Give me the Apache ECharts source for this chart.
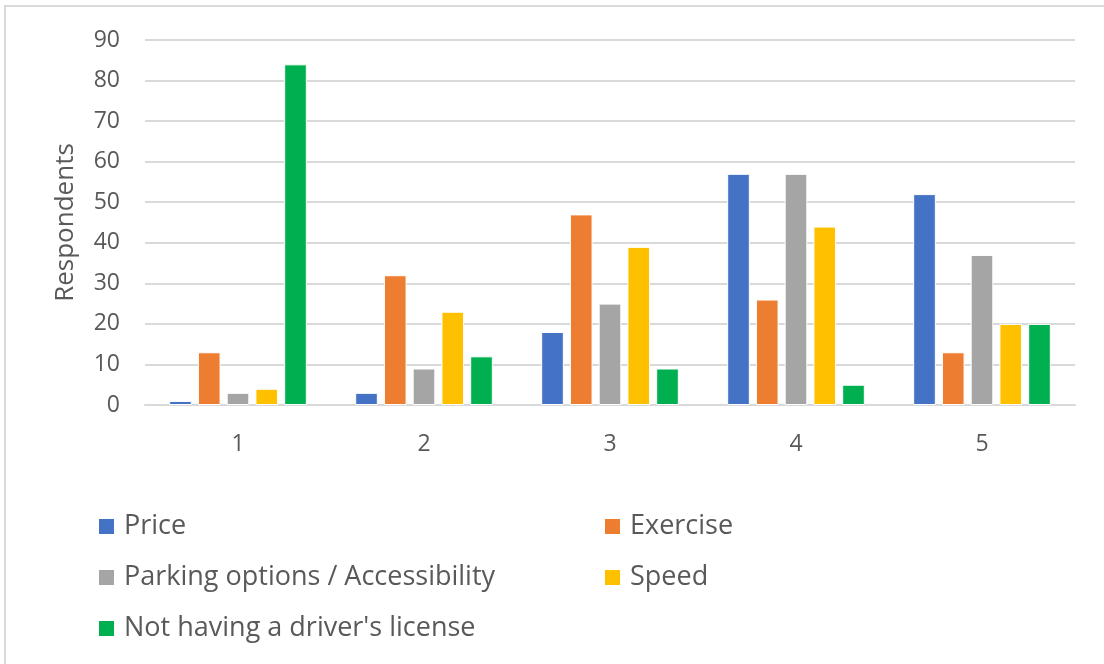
<!DOCTYPE html>
<html>
<head>
<meta charset="utf-8">
<script src="https://cdn.jsdelivr.net/npm/echarts@6/dist/echarts.min.js"></script>
<style>
html, body { margin: 0; padding: 0; background: #fff; }
#frame { position: absolute; left: 4px; top: 5px; width: 1100px; height: 659px; border-top: 2px solid #d9d9d9; border-left: 2px solid #d9d9d9; }
#main { position: absolute; left: 0; top: 0; width: 1104px; height: 664px; }
</style>
</head>
<body>
<div id="frame"></div>
<div id="main"></div>
<script>
var categories = ['1', '2', '3', '4', '5'];
var price = [1, 3, 18, 57, 52];
var exercise = [13, 32, 47, 26, 13];
var parking = [3, 9, 25, 57, 37];
var speed = [4, 23, 39, 44, 20];
var license = [84, 12, 9, 5, 20];

var names = ['Price', 'Exercise', 'Parking options / Accessibility', 'Speed', "Not having a driver's license"];
var colors = ['#4472C4', '#ED7D31', '#A5A5A5', '#FFC000', '#00B050'];
var values = [price, exercise, parking, speed, license];

var chart = echarts.init(document.getElementById('main'));

var series = [];
for (var i = 0; i < names.length; i++) {
    series.push({
        name: names[i],
        type: 'bar',
        data: values[i],
        barGap: '27%',
        barCategoryGap: '26%',
        itemStyle: { color: colors[i], borderColor: '#fff', borderWidth: 1 }
    });
}

// legend text, a bit larger than the axis labels
var legendText = { color: '#595959', fontSize: 27, fontFamily: 'Open Sans', padding: [0, 0, 0, 4] };

var option = {
    animation: false,
    textStyle: { fontFamily: 'Open Sans' },
    grid: { left: 145, right: 29, top: 40, bottom: 259 },
    legend: [{
        orient: 'vertical', left: 92, top: 508, itemWidth: 17, itemHeight: 17, itemGap: 24,
        icon: 'rect', textStyle: legendText, data: [names[0], names[2], names[4]]
    }, {
        orient: 'vertical', left: 598, top: 508, itemWidth: 17, itemHeight: 17, itemGap: 24,
        icon: 'rect', textStyle: legendText, data: [names[1], names[3]]
    }],
    xAxis: {
        type: 'category',
        data: categories,
        axisLine: { lineStyle: { color: '#d9d9d9', width: 2 } },
        axisTick: { show: false },
        axisLabel: { color: '#595959', fontSize: 23, margin: 28 }
    },
    yAxis: {
        type: 'value',
        min: 0, max: 90, interval: 10,
        name: 'Respondents',
        nameLocation: 'middle',
        nameGap: 66,
        nameTextStyle: { color: '#595959', fontSize: 26 },
        axisLabel: { color: '#595959', fontSize: 23, margin: 25 },
        splitLine: { lineStyle: { color: '#d9d9d9', width: 2 } }
    },
    series: series
};
chart.setOption(option);
</script>
</body>
</html>
